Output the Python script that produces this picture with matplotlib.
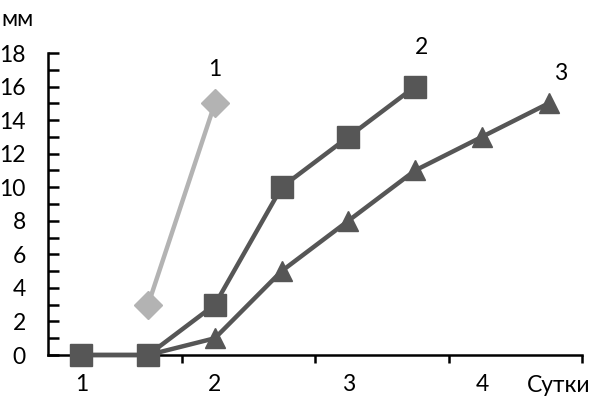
import matplotlib
matplotlib.use("Agg")
import matplotlib.pyplot as plt
from matplotlib.ticker import MultipleLocator, FixedLocator

plt.rcParams['font.family'] = ['Lato', 'DejaVu Sans']

# Data
days1 = [1.5, 2.0]
vals1 = [3, 15]
days2 = [1.0, 1.5, 2.0, 2.5, 3.0, 3.5]
vals2 = [0, 0, 3, 10, 13, 16]
days3 = [1.0, 1.5, 2.0, 2.5, 3.0, 3.5, 4.0, 4.5]
vals3 = [0, 0, 1, 5, 8, 11, 13, 15]
day_labels = ["1", "2", "3", "4"]
day_positions = [1, 2, 3, 4]
series_names = ["1", "2", "3"]

light = "#b3b3b3"
dark = "#565656"
FS = 16.5

fig = plt.figure(figsize=(5.92, 4.0), dpi=100)
ax = fig.add_axes([48/592, 1-355/400, (582-48)/592, (355-53)/400])

ax.plot(days1, vals1, color=light, lw=3.2, marker='D', ms=14, mfc=light, mec=light,
        zorder=3, solid_capstyle='round')
ax.plot(days3, vals3, color=dark, lw=3.2, marker='^', ms=14.5, mfc=dark, mec=dark,
        zorder=4, clip_on=False)
ax.plot(days2, vals2, color=dark, lw=3.2, marker='s', ms=16, mfc=dark, mec=dark,
        zorder=5, clip_on=False)

# series labels
ax.text(days1[-1], 17.0, series_names[0], ha='center', va='center', fontsize=FS, color='black')
ax.text(3.55, 18.3, series_names[1], ha='center', va='center', fontsize=FS, color='black')
ax.text(4.59, 16.8, series_names[2], ha='center', va='center', fontsize=FS, color='black')

ax.set_xlim(0.75, 4.75)
ax.set_ylim(0, 18)

for s in ['top', 'right']:
    ax.spines[s].set_visible(False)
for s in ['left', 'bottom']:
    ax.spines[s].set_linewidth(1.8)
    ax.spines[s].set_color('black')

ax.yaxis.set_major_locator(MultipleLocator(2))
ax.yaxis.set_minor_locator(MultipleLocator(1))
ax.tick_params(axis='y', which='both', direction='in', length=8, width=1.8,
               labelsize=FS, pad=16)

# x: tick marks between categories, labels at category centres
ax.xaxis.set_major_locator(FixedLocator(day_positions))
ax.set_xticklabels(day_labels)
ax.xaxis.set_minor_locator(FixedLocator([1.75, 2.75, 3.75, 4.75]))
ax.tick_params(axis='x', which='major', length=0, labelsize=FS, pad=14)
ax.tick_params(axis='x', which='minor', direction='out', length=6, width=1.8)

fig.text(1-2/592, 1-385/400, "Сутки", ha='right', va='center', fontsize=FS)
fig.text(1/592, 1-19/400, "мм", ha='left', va='center', fontsize=FS)

fig.savefig("out.png", dpi=100)
